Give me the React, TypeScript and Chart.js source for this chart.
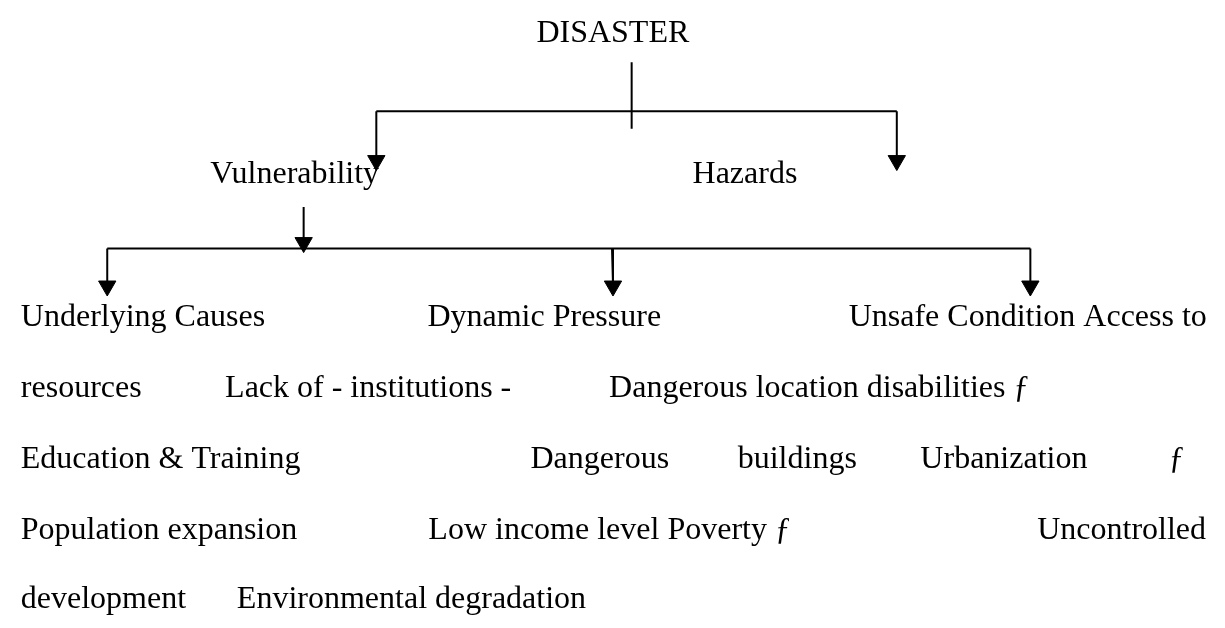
import React, { useEffect, useRef } from "react";
import { Chart, registerables } from "chart.js";

Chart.register(...registerables);

// Diagram text labels (text + position in diagram units, baseline y)
const labelTexts = [
  "DISASTER",
  "Vulnerability",
  "Hazards",
  "Underlying Causes",
  "Dynamic Pressure",
  "Unsafe Condition Access to",
  "resources",
  "Lack of - institutions -",
  "Dangerous location disabilities \u0192",
  "Education & Training",
  "Dangerous",
  "buildings",
  "Urbanization",
  "\u0192",
  "Population expansion",
  "Low income level Poverty \u0192",
  "Uncontrolled",
  "development",
  "Environmental degradation",
];
const labelX = [535, 203, 694, 10, 424, 853, 10, 218, 609, 10, 529, 740, 926, 1179, 10, 425, 1045, 10, 230];
const labelY = [32, 178, 178, 326, 326, 326, 400, 400, 400, 474, 474, 474, 474, 474, 547, 547, 547, 619, 619];

// Connector line segments
const lineStartX = [632, 372, 372, 902, 298, 98, 98, 612, 1038];
const lineStartY = [53, 104, 104, 104, 203, 246, 246, 246, 246];
const lineEndX = [632, 902, 372, 902, 298, 1038, 98, 613, 1038];
const lineEndY = [122, 104, 153, 153, 238, 246, 283, 283, 283];

// Arrow tips
const arrowTipX = [372, 902, 298, 98, 613, 1038];
const arrowTipY = [165, 165, 250, 295, 295, 295];

const W = 1225;
const H = 628;
const ARROW_R = 10;

const textPlugin = {
  id: "diagramText",
  afterDatasetsDraw(chart: any) {
    const ctx = chart.ctx;
    const xs = chart.scales.x;
    const ys = chart.scales.y;
    ctx.save();
    ctx.fillStyle = "#000";
    ctx.font = '32px "Liberation Serif", "Times New Roman", serif';
    ctx.textAlign = "left";
    ctx.textBaseline = "alphabetic";
    labelTexts.forEach((t, i) => {
      ctx.fillText(t, xs.getPixelForValue(labelX[i]), ys.getPixelForValue(labelY[i]));
    });
    ctx.restore();
  },
};

export default function App() {
  const ref = useRef<HTMLCanvasElement | null>(null);

  useEffect(() => {
    if (!ref.current) return;
    const datasets: any[] = lineStartX.map((_, i) => ({
      data: [
        { x: lineStartX[i], y: lineStartY[i] },
        { x: lineEndX[i], y: lineEndY[i] },
      ],
      showLine: true,
      borderColor: "#000",
      borderWidth: 2,
      pointRadius: 0,
      borderCapStyle: "butt",
      clip: false,
    }));
    datasets.push({
      data: arrowTipX.map((x, i) => ({ x, y: arrowTipY[i] - ARROW_R })),
      showLine: false,
      pointStyle: "triangle",
      rotation: 180,
      pointRadius: ARROW_R,
      backgroundColor: "#000",
      borderColor: "#000",
      borderWidth: 1,
      clip: false,
    });

    const chart = new Chart(ref.current, {
      type: "scatter",
      data: { datasets },
      options: {
        animation: false,
        responsive: false,
        events: [],
        layout: { padding: 0 },
        plugins: { legend: { display: false }, tooltip: { enabled: false } },
        scales: {
          x: { type: "linear", min: 0, max: W, display: false },
          y: { type: "linear", min: 0, max: H, reverse: true, display: false },
        },
      },
      plugins: [textPlugin],
    });
    return () => chart.destroy();
  }, []);

  return (
    <div style={{ position: "fixed", left: 0, top: 0, width: W, height: H, background: "#fff" }}>
      <canvas ref={ref} width={W} height={H} style={{ display: "block" }} />
    </div>
  );
}
